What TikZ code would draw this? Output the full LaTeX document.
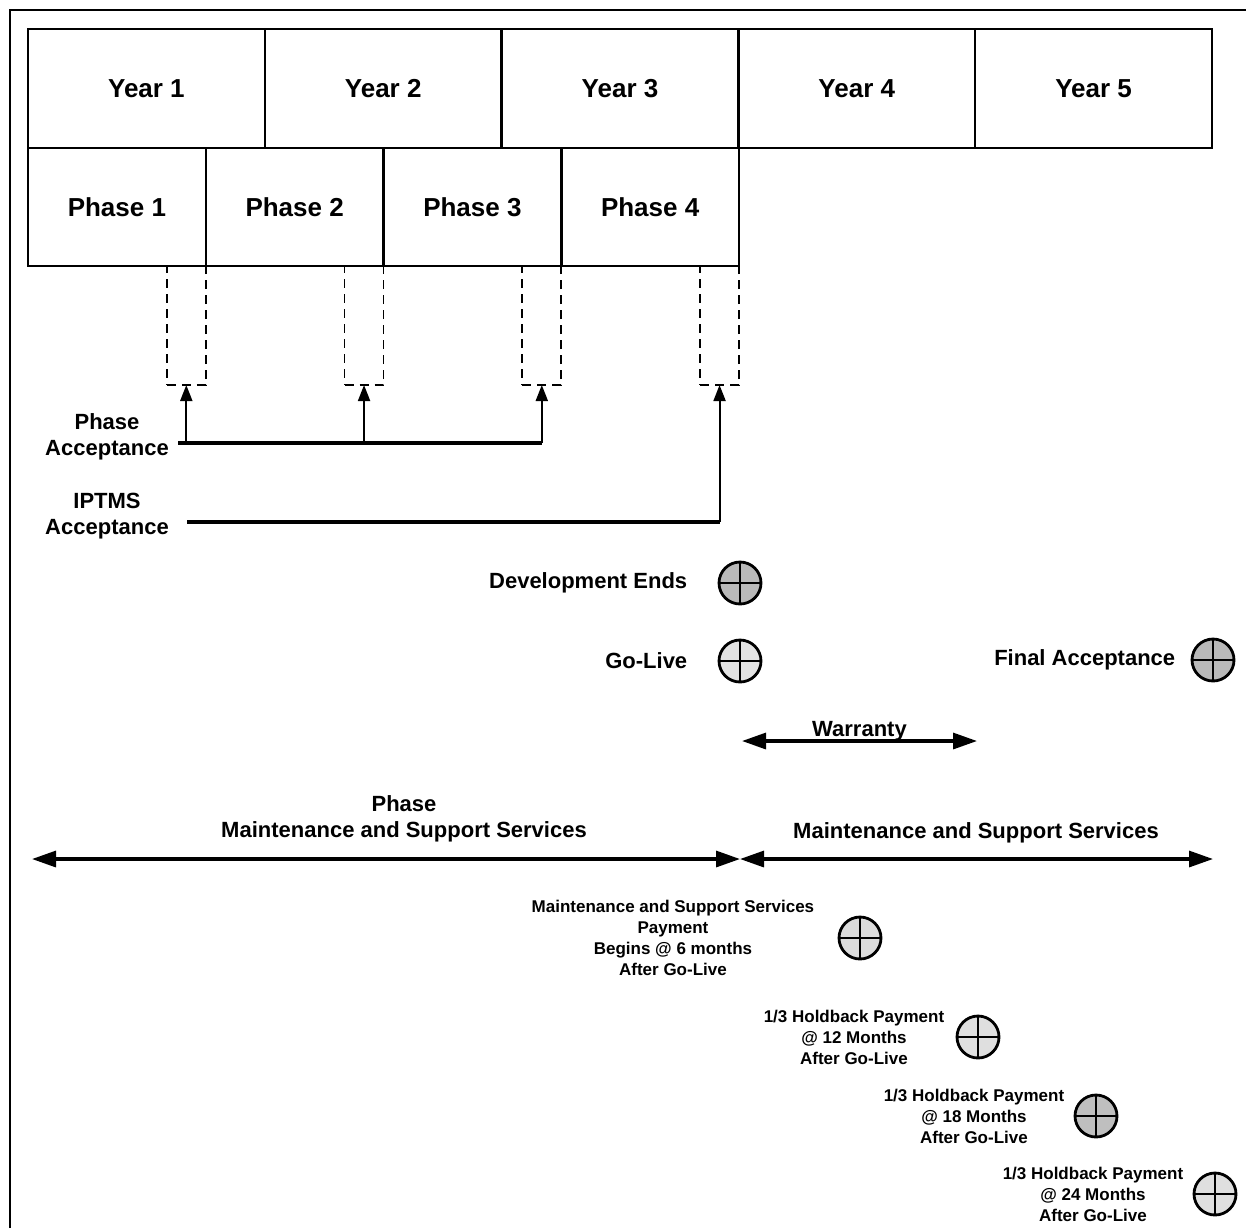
\documentclass[tikz,border=0pt]{standalone}
\usepackage{fontspec}
\setmainfont{Liberation Sans}
\usetikzlibrary{positioning, arrows.meta}

\tikzset{
  cell/.style={draw, line width=1.2pt, outer sep=0pt, anchor=north west,
    font=\fontsize{13}{15}\selectfont\bfseries},
  yearbox/.style={cell, minimum width=118.4pt, minimum height=59.5pt},
  phasebox/.style={cell, minimum width=88.9pt, minimum height=59pt},
  accbox/.style={draw, dash pattern=on 4.5pt off 3pt, line width=0.9pt, outer sep=0pt,
    anchor=north east, minimum width=19.5pt, minimum height=59.5pt},
  milestone/.style={circle, draw, line width=1.4pt, minimum size=21pt, inner sep=0pt},
  lbl/.style={font=\fontsize{11}{13}\selectfont\bfseries, align=center, inner sep=1pt},
  small/.style={font=\fontsize{8.5}{10.5}\selectfont\bfseries, align=center, inner sep=1pt},
  span/.style={line width=1.6pt, {Triangle[length=12pt,width=8pt]}-{Triangle[length=12pt,width=8pt]}},
}

\begin{document}
\begin{tikzpicture}[x=0.5pt, y=-0.5pt, >={Triangle[length=8pt,width=6pt]}]
  \useasboundingbox (0,0) rectangle (1246,1228);
  \draw[line width=1.2pt] (10,1228) -- (10,10) -- (1246,10);

  % years and phases
  \foreach \i in {1,...,5}
    \node[yearbox] (y\i) at ({28+(\i-1)*236.8},29) {Year \i};
  \foreach \i in {1,...,4}
    \node[phasebox] (p\i) at ({28+(\i-1)*177.75},148) {Phase \i};
  \foreach \i in {1,...,4}
    \node[accbox] (d\i) at (p\i.south east) {};

  % acceptance
  \node[lbl] (pacc) at (107,437) {Phase\\Acceptance};
  \node[lbl] (iacc) at (107,516) {IPTMS\\Acceptance};
  \coordinate (bus) at (178,443);
  \coordinate (ibus) at (187,522);
  \draw[line width=1.6pt] (bus) -- (d3.south |- bus);
  \foreach \i in {1,2,3}
    \draw[->, line width=1pt] (d\i.south |- bus) -- (d\i.south);
  \draw[line width=1.6pt] (ibus) -- (d4.south |- ibus);
  \draw[->, line width=1pt] (d4.south |- ibus) -- (d4.south);

  % milestones
  \node[milestone, fill=gray!55] (dev) at (740,583) {};
  \node[milestone, fill=gray!22] (golive) at (740,661) {};
  \node[milestone, fill=gray!55] (final) at (1213,660) {};
  \node[milestone, fill=gray!28] (pay) at (860,938) {};
  \node[milestone, fill=gray!25] (hb12) at (978,1037) {};
  \node[milestone, fill=gray!50] (hb18) at (1096,1116) {};
  \node[milestone, fill=gray!25] (hb24) at (1215,1194) {};
  \foreach \m in {dev,golive,final,pay,hb12,hb18,hb24}
    \draw[line width=1.4pt] (\m.north) -- (\m.south) (\m.west) -- (\m.east);

  \node[lbl, left=14pt of dev] (devl) {Development Ends};
  \node[lbl, left=14pt of golive] (golivel) {Go-Live};
  \node[lbl, left=6.5pt of final] (finall) {Final Acceptance};
  \node[small, left=10.5pt of pay] (payl)
    {Maintenance and Support Services\\Payment\\Begins @ 6 months\\After Go-Live};
  \node[small, left=4.5pt of hb12] (hb12l) {1/3 Holdback Payment\\@ 12 Months\\After Go-Live};
  \node[small, left=3.5pt of hb18] (hb18l) {1/3 Holdback Payment\\@ 18 Months\\After Go-Live};
  \node[small, left=3.5pt of hb24] (hb24l) {1/3 Holdback Payment\\@ 24 Months\\After Go-Live};

  % warranty and support spans
  \coordinate (w0) at (742,741);
  \coordinate (w1) at (977,741);
  \draw[span] (w0) -- node[lbl, above=-2pt] (war) {Warranty} (w1);
  \coordinate (m0) at (32,859);
  \coordinate (m1) at (740,859);
  \coordinate (m2) at (1213,859);
  \draw[span] (m0) -- (m1);
  \draw[span] (m1) -- (m2);
  \node[lbl] (pms) at (404,819) {Phase\\Maintenance and Support Services};
  \node[lbl] (ms) at (976,833) {Maintenance and Support Services};
\end{tikzpicture}
\end{document}
